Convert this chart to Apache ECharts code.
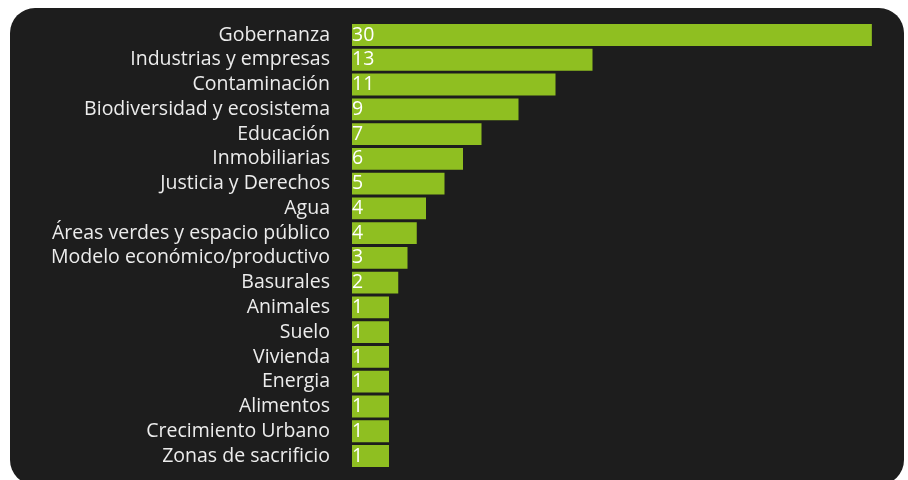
<!DOCTYPE html>
<html lang="es">
<head>
    <meta charset="UTF-8">
    <title>Temas</title>
    <style>
        html, body {
            margin: 0;
            padding: 0;
            background: #ffffff;
            overflow: hidden;
        }
        .panel {
            position: absolute;
            left: 10px;
            top: 8px;
            width: 894px;
            height: 477px;
            background: #1d1d1d;
            border-radius: 25px;
        }
        #chart {
            position: absolute;
            left: 0;
            top: 0;
            width: 908px;
            height: 480px;
        }
    </style>
</head>
<body>
<div class="panel"></div>
<div id="chart"></div>
<script src="https://cdn.jsdelivr.net/npm/echarts@6/dist/echarts.min.js"></script>
<script>
    // categorias (de arriba hacia abajo)
    const categories = ['Gobernanza', 'Industrias y empresas', 'Contaminación', 'Biodiversidad y ecosistema',
        'Educación', 'Inmobiliarias', 'Justicia y Derechos', 'Agua', 'Áreas verdes y espacio público',
        'Modelo económico/productivo', 'Basurales', 'Animales', 'Suelo', 'Vivienda', 'Energia',
        'Alimentos', 'Crecimiento Urbano', 'Zonas de sacrificio'];
    // numeros que se muestran en cada barra
    const counts = [30, 13, 11, 9, 7, 6, 5, 4, 4, 3, 2, 1, 1, 1, 1, 1, 1, 1];
    // largo de cada barra tal como aparece en la imagen (misma escala)
    const barLengths = [28.1, 13, 11, 9, 7, 6, 5, 4, 3.5, 3, 2.5, 2, 2, 2, 2, 2, 2, 2];

    let myChart = echarts.init(document.getElementById('chart'));
    let option = {
        backgroundColor: 'transparent',
        animation: false,
        grid: {
            left: 352,
            top: 22.6,
            width: 555,
            height: 445.8
        },
        xAxis: {
            type: 'value',
            min: 0,
            max: 30,
            show: false
        },
        yAxis: {
            type: 'category',
            inverse: true,
            data: categories,
            axisLine: {show: false},
            axisTick: {show: false},
            splitLine: {show: false},
            axisLabel: {
                interval: 0,
                color: '#ececec',
                fontSize: 19.5,
                fontFamily: 'Open Sans',
                margin: 22,
                padding: [4, 0, 0, 0]
            }
        },
        series: [
            {
                type: 'bar',
                data: barLengths,
                barCategoryGap: '12%',
                itemStyle: {color: '#8fbf21'},
                label: {
                    show: true,
                    position: 'insideLeft',
                    distance: 0,
                    color: '#ffffff',
                    fontSize: 19.5,
                    fontFamily: 'Open Sans',
                    padding: [4, 0, 0, 0],
                    formatter: p => counts[p.dataIndex]
                }
            }
        ]
    };
    myChart.setOption(option);
</script>
</body>
</html>
